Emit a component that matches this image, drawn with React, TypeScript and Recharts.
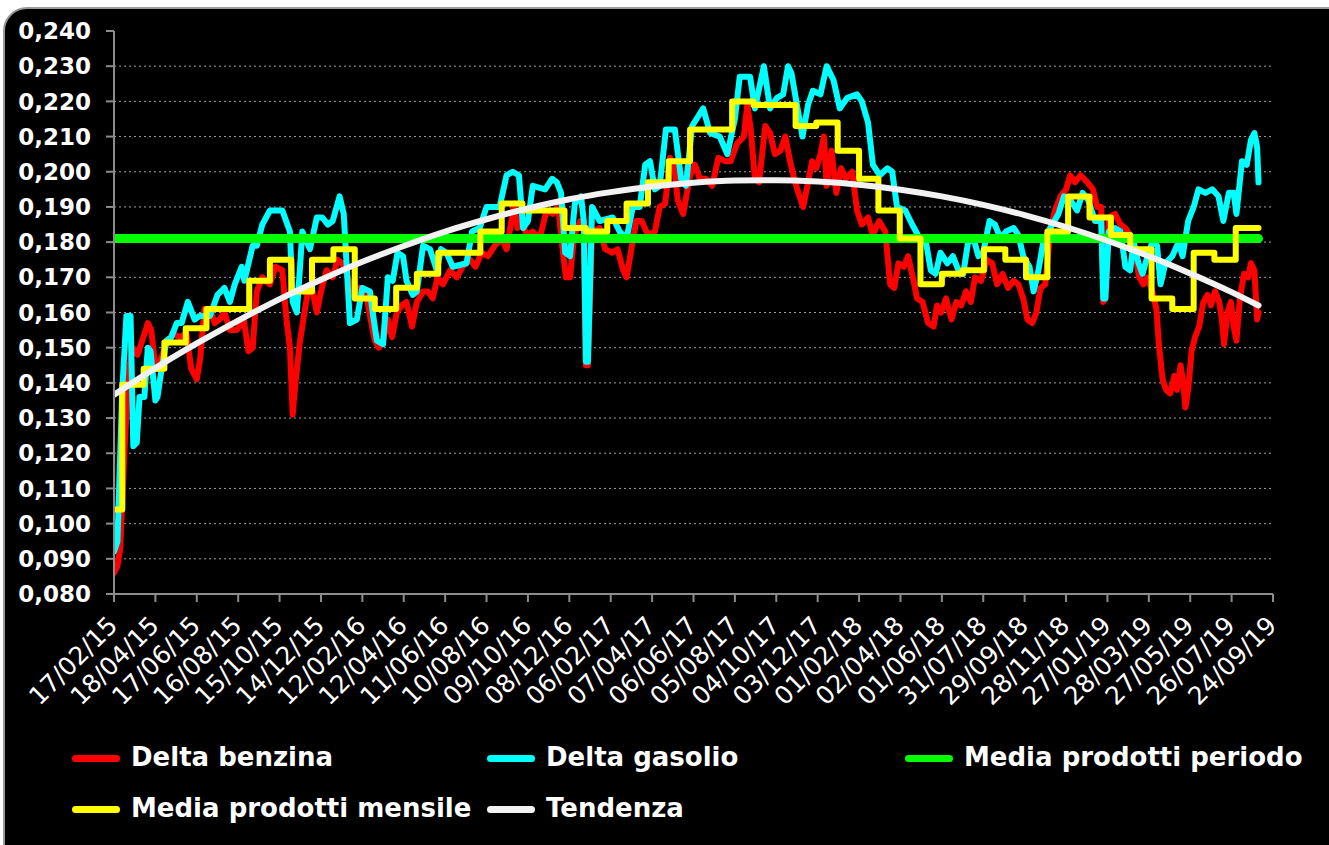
import React from 'react';
import { LineChart, Line, XAxis, YAxis, CartesianGrid } from 'recharts';

// Asse x: etichette ogni 60 giorni a partire dal 17/02/15
const xTickLabels = [
    '17/02/15', '18/04/15', '17/06/15', '16/08/15', '15/10/15', '14/12/15', '12/02/16', '12/04/16',
    '11/06/16', '10/08/16', '09/10/16', '08/12/16', '06/02/17', '07/04/17', '06/06/17', '05/08/17',
    '04/10/17', '03/12/17', '01/02/18', '02/04/18', '01/06/18', '31/07/18', '29/09/18', '28/11/18',
    '27/01/19', '28/03/19', '27/05/19', '26/07/19', '24/09/19',
];

const yTicks = [0.08, 0.09, 0.1, 0.11, 0.12, 0.13, 0.14, 0.15, 0.16, 0.17, 0.18, 0.19, 0.2, 0.21, 0.22, 0.23, 0.24];

// [giorno dal 17/02/15, valore]
const deltaBenzina: [number, number][] = [
    [0, 0.086], [5, 0.088], [9, 0.093], [15, 0.12], [21, 0.143], [27, 0.15], [34, 0.148], [41, 0.152],
    [49, 0.157], [54, 0.155], [59, 0.146], [63, 0.144], [70, 0.148], [76, 0.151], [85, 0.154], [95, 0.153],
    [105, 0.154], [112, 0.144], [120, 0.141], [125, 0.147], [131, 0.161], [139, 0.161], [146, 0.157], [153, 0.158],
    [160, 0.16], [168, 0.155], [178, 0.155], [188, 0.158], [195, 0.149], [201, 0.15], [207, 0.166], [215, 0.17],
    [226, 0.168], [234, 0.173], [244, 0.172], [250, 0.158], [255, 0.15], [259, 0.131], [263, 0.14], [269, 0.151],
    [276, 0.16], [282, 0.167], [288, 0.166], [294, 0.16], [300, 0.166], [308, 0.172], [317, 0.17], [324, 0.175],
    [331, 0.174], [339, 0.17], [346, 0.165], [356, 0.167], [365, 0.166], [372, 0.158], [378, 0.152], [384, 0.15],
    [390, 0.152], [397, 0.158], [403, 0.153], [410, 0.16], [417, 0.162], [424, 0.163], [432, 0.156], [439, 0.163],
    [448, 0.166], [455, 0.166], [462, 0.164], [469, 0.17], [477, 0.168], [487, 0.172], [497, 0.17], [505, 0.173],
    [516, 0.175], [524, 0.173], [533, 0.177], [542, 0.176], [552, 0.179], [562, 0.181], [569, 0.178], [577, 0.187],
    [580, 0.191], [585, 0.184], [591, 0.186], [598, 0.182], [607, 0.183], [617, 0.181], [627, 0.189], [636, 0.188],
    [644, 0.19], [649, 0.18], [655, 0.17], [661, 0.17], [667, 0.182], [676, 0.186], [681, 0.184], [684, 0.145],
    [687, 0.145], [693, 0.183], [704, 0.184], [712, 0.178], [722, 0.177], [730, 0.178], [738, 0.172], [743, 0.17],
    [749, 0.177], [757, 0.186], [765, 0.186], [774, 0.182], [784, 0.183], [791, 0.19], [799, 0.191], [806, 0.204],
    [812, 0.202], [817, 0.192], [825, 0.188], [835, 0.199], [842, 0.202], [849, 0.198], [858, 0.198], [867, 0.196],
    [876, 0.204], [886, 0.203], [894, 0.203], [903, 0.208], [913, 0.21], [918, 0.219], [923, 0.212], [929, 0.198],
    [935, 0.197], [944, 0.213], [951, 0.211], [958, 0.205], [966, 0.206], [973, 0.21], [980, 0.203], [986, 0.198],
    [992, 0.194], [999, 0.19], [1006, 0.197], [1012, 0.203], [1018, 0.201], [1024, 0.205], [1029, 0.21], [1033, 0.196],
    [1040, 0.206], [1047, 0.194], [1054, 0.201], [1061, 0.198], [1070, 0.2], [1077, 0.189], [1084, 0.185], [1093, 0.187],
    [1100, 0.182], [1109, 0.186], [1118, 0.183], [1125, 0.168], [1131, 0.167], [1137, 0.174], [1145, 0.173], [1151, 0.176],
    [1158, 0.17], [1164, 0.164], [1172, 0.163], [1180, 0.157], [1188, 0.156], [1193, 0.162], [1199, 0.16], [1206, 0.164],
    [1214, 0.158], [1221, 0.163], [1228, 0.162], [1235, 0.166], [1242, 0.163], [1248, 0.17], [1257, 0.169], [1265, 0.175],
    [1273, 0.174], [1280, 0.168], [1288, 0.171], [1296, 0.167], [1304, 0.169], [1311, 0.168], [1318, 0.164], [1324, 0.158],
    [1331, 0.157], [1337, 0.16], [1343, 0.167], [1350, 0.168], [1357, 0.183], [1364, 0.189], [1372, 0.193], [1380, 0.195],
    [1386, 0.199], [1393, 0.197], [1401, 0.199], [1411, 0.197], [1419, 0.195], [1425, 0.19], [1431, 0.19], [1434, 0.163],
    [1437, 0.164], [1442, 0.187], [1451, 0.188], [1459, 0.185], [1466, 0.184], [1473, 0.182], [1480, 0.177], [1486, 0.17],
    [1492, 0.168], [1498, 0.17], [1505, 0.166], [1511, 0.161], [1515, 0.15], [1520, 0.141], [1525, 0.138], [1531, 0.137],
    [1537, 0.142], [1541, 0.138], [1546, 0.145], [1550, 0.14], [1553, 0.133], [1557, 0.138], [1562, 0.149], [1567, 0.153],
    [1573, 0.156], [1579, 0.163], [1585, 0.165], [1590, 0.162], [1596, 0.166], [1602, 0.163], [1606, 0.158], [1609, 0.151],
    [1614, 0.16], [1619, 0.163], [1623, 0.156], [1627, 0.152], [1632, 0.164], [1638, 0.171], [1644, 0.17], [1648, 0.174],
    [1653, 0.172], [1657, 0.158], [1659, 0.16],
];

const deltaGasolio: [number, number][] = [
    [0, 0.092], [5, 0.095], [12, 0.138], [18, 0.159], [24, 0.159], [28, 0.122], [33, 0.123], [37, 0.136],
    [44, 0.136], [49, 0.15], [53, 0.149], [60, 0.135], [63, 0.136], [69, 0.144], [76, 0.152], [83, 0.153],
    [91, 0.157], [98, 0.157], [107, 0.163], [117, 0.158], [124, 0.159], [139, 0.159], [150, 0.165], [160, 0.167],
    [168, 0.163], [175, 0.168], [185, 0.173], [189, 0.169], [201, 0.179], [207, 0.179], [215, 0.185], [226, 0.189],
    [244, 0.189], [255, 0.183], [259, 0.163], [265, 0.16], [269, 0.171], [273, 0.183], [284, 0.178], [294, 0.187],
    [302, 0.187], [310, 0.185], [317, 0.186], [327, 0.193], [333, 0.188], [342, 0.157], [352, 0.158], [360, 0.167],
    [371, 0.166], [375, 0.16], [381, 0.152], [390, 0.151], [397, 0.17], [404, 0.169], [411, 0.177], [419, 0.176],
    [424, 0.169], [433, 0.165], [439, 0.166], [448, 0.179], [458, 0.178], [468, 0.172], [474, 0.178], [482, 0.177],
    [491, 0.173], [511, 0.174], [519, 0.183], [530, 0.184], [540, 0.19], [559, 0.19], [569, 0.199], [578, 0.2],
    [587, 0.199], [593, 0.184], [600, 0.186], [607, 0.196], [625, 0.195], [635, 0.198], [642, 0.197], [648, 0.194],
    [654, 0.177], [661, 0.176], [668, 0.191], [677, 0.193], [681, 0.186], [684, 0.146], [687, 0.146], [693, 0.19],
    [704, 0.186], [723, 0.187], [733, 0.183], [743, 0.181], [752, 0.19], [762, 0.19], [770, 0.202], [777, 0.203],
    [784, 0.195], [791, 0.196], [800, 0.212], [813, 0.212], [822, 0.198], [829, 0.196], [838, 0.213], [854, 0.218],
    [864, 0.211], [878, 0.21], [889, 0.205], [900, 0.215], [907, 0.227], [922, 0.227], [929, 0.218], [942, 0.23],
    [951, 0.218], [961, 0.221], [970, 0.222], [977, 0.23], [982, 0.228], [989, 0.22], [998, 0.21], [1006, 0.219],
    [1013, 0.223], [1024, 0.222], [1033, 0.23], [1043, 0.226], [1052, 0.218], [1063, 0.221], [1077, 0.222], [1084, 0.22],
    [1093, 0.214], [1100, 0.202], [1110, 0.199], [1121, 0.201], [1128, 0.2], [1135, 0.19], [1147, 0.189], [1157, 0.185],
    [1168, 0.181], [1176, 0.181], [1184, 0.172], [1191, 0.171], [1198, 0.177], [1208, 0.174], [1216, 0.176], [1224, 0.172],
    [1231, 0.171], [1238, 0.18], [1246, 0.181], [1253, 0.176], [1260, 0.177], [1269, 0.186], [1277, 0.185], [1285, 0.181],
    [1293, 0.183], [1304, 0.184], [1311, 0.182], [1318, 0.176], [1327, 0.173], [1333, 0.166], [1340, 0.172], [1347, 0.18],
    [1357, 0.184], [1369, 0.188], [1377, 0.193], [1386, 0.192], [1396, 0.189], [1404, 0.194], [1412, 0.192], [1422, 0.186],
    [1431, 0.186], [1434, 0.164], [1437, 0.164], [1442, 0.183], [1451, 0.184], [1459, 0.183], [1466, 0.173], [1473, 0.172],
    [1478, 0.18], [1485, 0.174], [1491, 0.171], [1498, 0.176], [1505, 0.18], [1512, 0.179], [1517, 0.168], [1524, 0.174],
    [1534, 0.176], [1543, 0.18], [1549, 0.176], [1557, 0.186], [1565, 0.19], [1572, 0.195], [1582, 0.194], [1592, 0.195],
    [1601, 0.193], [1608, 0.186], [1616, 0.194], [1623, 0.194], [1627, 0.188], [1635, 0.203], [1642, 0.202], [1648, 0.209],
    [1653, 0.211], [1657, 0.207], [1659, 0.197],
];

// media mensile dei due prodotti, da febbraio 2015 ad agosto 2019
const mediaMensile = [
    0.104, 0.1395, 0.144, 0.1515, 0.1555, 0.161, 0.161, 0.169, 0.175, 0.166, 0.175,
    0.178, 0.164, 0.161, 0.167, 0.171, 0.177, 0.177, 0.183, 0.191, 0.189, 0.189, 0.184,
    0.183, 0.186, 0.191, 0.197, 0.203, 0.212, 0.212, 0.22, 0.219, 0.219, 0.213, 0.214,
    0.206, 0.198, 0.189, 0.181, 0.168, 0.171, 0.172, 0.178, 0.175, 0.17, 0.183, 0.193,
    0.187, 0.182, 0.178, 0.164, 0.161, 0.177, 0.175, 0.184,
];

const mediaPeriodo = 0.181;

const tendenza: [number, number][] = [
    [0, 0.1366], [60, 0.1442], [120, 0.1512], [180, 0.1577], [240, 0.1638], [300, 0.1693], [360, 0.1744],
    [420, 0.1789], [480, 0.183], [540, 0.1865], [600, 0.1896], [660, 0.1922], [720, 0.1942], [780, 0.1958],
    [840, 0.1969], [900, 0.1975], [960, 0.1976], [1020, 0.1972], [1080, 0.1963], [1140, 0.1949], [1200, 0.193],
    [1260, 0.1906], [1320, 0.1877], [1380, 0.1843], [1440, 0.1804], [1500, 0.176], [1560, 0.1711], [1620, 0.1658],
    [1659, 0.162],
];

const base = Date.UTC(2015, 1, 17);
const toDay = (t: number) => Math.round((t - base) / 86400000);
const parseLabel = (s: string) => {
    const [dd, mm, yy] = s.split('/').map(Number);
    return toDay(Date.UTC(2000 + yy, mm - 1, dd));
};

const xTicks = xTickLabels.map(parseLabel);
const labelByDay = new Map(xTicks.map((d, i) => [d, xTickLabels[i]]));
const lastDay = deltaBenzina[deltaBenzina.length - 1][0];

const toRows = (pairs: [number, number][]) => pairs.map(([d, v]) => ({ d, v }));
const benzinaRows = toRows(deltaBenzina);
const gasolioRows = toRows(deltaGasolio);
const tendenzaRows = toRows(tendenza);
const periodoRows = [{ d: 0, v: mediaPeriodo }, { d: lastDay, v: mediaPeriodo }];
const mensileRows = mediaMensile.map((v, i) => ({ d: i === 0 ? 0 : toDay(Date.UTC(2015, 1 + i, 1)), v }));
mensileRows.push({ d: lastDay, v: mediaMensile[mediaMensile.length - 1] });

const FONT = '"DejaVu Sans", Verdana, sans-serif';
const AXIS = '#8c8c8c';

const XTick = (props: any) => {
    const { x, y, payload } = props;
    return (
        <text
            transform={`translate(${x + 5},${y + 25}) rotate(-45)`}
            textAnchor="end"
            fill="#fff"
            fontSize={25}
            fontFamily={FONT}
        >
            {labelByDay.get(payload.value)}
        </text>
    );
};

const legendItems = [
    { name: 'Delta benzina', color: '#ff0000', x: 72, y: 758 },
    { name: 'Delta gasolio', color: '#00ffff', x: 487, y: 758 },
    { name: 'Media prodotti periodo', color: '#00ff00', x: 905, y: 758 },
    { name: 'Media prodotti mensile', color: '#ffff00', x: 72, y: 809 },
    { name: 'Tendenza', color: '#f2f2f2', x: 487, y: 809 },
];

export default function App() {
    return (
        <div style={{ position: 'fixed', left: 0, top: 0, width: 1329, height: 845, overflow: 'hidden', background: '#fff' }}>
            {/* cornice nera arrotondata */}
            <div style={{
                position: 'absolute', left: 3, top: 7, width: 1400, height: 900,
                background: '#000', border: '2px solid #9a9a9a', borderRadius: 24, boxSizing: 'border-box',
            }} />

            <div style={{ position: 'absolute', left: 0, top: 0 }}>
                <LineChart width={1329} height={845} margin={{ top: 31, right: 56, bottom: 221, left: 0 }}>
                    <CartesianGrid
                        vertical={false}
                        stroke="#a0a0a0"
                        strokeDasharray="2 3"
                        horizontalCoordinatesGenerator={({ offset }: any) =>
                            yTicks.slice(1, -1).map(v => offset.top + ((0.24 - v) / 0.16) * offset.height)
                        }
                    />
                    <XAxis
                        type="number"
                        dataKey="d"
                        domain={[0, 1680]}
                        ticks={xTicks}
                        interval={0}
                        allowDataOverflow
                        height={30}
                        tickSize={8}
                        tickMargin={0}
                        axisLine={{ stroke: AXIS, strokeWidth: 2 }}
                        tickLine={{ stroke: AXIS, strokeWidth: 2 }}
                        tick={<XTick />}
                    />
                    <YAxis
                        type="number"
                        domain={[0.08, 0.24]}
                        ticks={yTicks}
                        interval={0}
                        width={114}
                        tickSize={8}
                        tickMargin={15}
                        axisLine={{ stroke: AXIS, strokeWidth: 2 }}
                        tickLine={{ stroke: AXIS, strokeWidth: 2 }}
                        tick={{ fill: '#fff', fontSize: 23, fontWeight: 'bold', fontFamily: FONT }}
                        tickFormatter={(v: number) => v.toFixed(3).replace('.', ',')}
                    />
                    <Line data={benzinaRows} dataKey="v" type="linear" stroke="#ff0000" strokeWidth={6}
                        strokeLinejoin="round" strokeLinecap="round" dot={false} isAnimationActive={false} />
                    <Line data={gasolioRows} dataKey="v" type="linear" stroke="#00ffff" strokeWidth={6}
                        strokeLinejoin="round" strokeLinecap="round" dot={false} isAnimationActive={false} />
                    <Line data={periodoRows} dataKey="v" type="linear" stroke="#00ff00" strokeWidth={9}
                        strokeLinecap="round" dot={false} isAnimationActive={false} />
                    <Line data={mensileRows} dataKey="v" type="stepAfter" stroke="#ffff00" strokeWidth={6}
                        strokeLinejoin="round" strokeLinecap="round" dot={false} isAnimationActive={false} />
                    <Line data={tendenzaRows} dataKey="v" type="monotone" stroke="#f2f2f2" strokeWidth={6}
                        strokeLinecap="round" dot={false} isAnimationActive={false} />
                </LineChart>
            </div>

            {/* legenda */}
            {legendItems.map(item => (
                <React.Fragment key={item.name}>
                    <div style={{
                        position: 'absolute', left: item.x, top: item.y - 3, width: 48, height: 7,
                        borderRadius: 4, background: item.color,
                    }} />
                    <div style={{
                        position: 'absolute', left: item.x + 59, top: item.y - 16, lineHeight: '30px',
                        color: '#fff', fontFamily: FONT, fontWeight: 'bold', fontSize: 26, whiteSpace: 'nowrap',
                    }}>
                        {item.name}
                    </div>
                </React.Fragment>
            ))}
        </div>
    );
}
